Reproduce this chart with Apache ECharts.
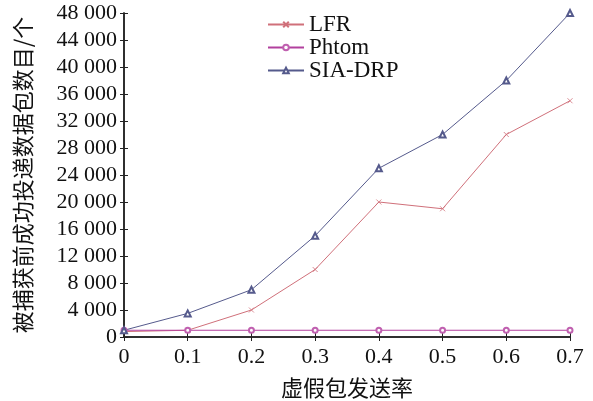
<!DOCTYPE html>
<html lang="zh">
<head>
    <meta charset="UTF-8">
    <title>chart</title>
    <script src="https://cdn.jsdelivr.net/npm/echarts@6/dist/echarts.min.js"></script>
</head>
<style>
    * { margin: 0; padding: 0; }
    html, body { width: 100%; height: 100%; overflow: hidden; background: #fff; }
    .container { width: 593px; height: 401px; }
</style>
<body>
    <div class="container"></div>
</body>
<script>
    let rates = [0, 0.1, 0.2, 0.3, 0.4, 0.5, 0.6, 0.7];
    let lfr = [800, 1000, 4000, 10000, 20000, 19000, 30000, 35000];
    let phtom = [1000, 1000, 1000, 1000, 1000, 1000, 1000, 1000];
    let siaDrp = [1000, 3500, 7000, 15000, 25000, 30000, 38000, 48000];

    let serif = '"Liberation Serif", "Noto Sans CJK SC", serif';
    let cjk = '"Noto Sans CJK SC", sans-serif';

    let container = document.querySelector('.container');
    let mycharts = echarts.init(container);

    function pairs(arr) {
        return arr.map((v, i) => [rates[i], v]);
    }
    function fmtY(v) {
        if (v < 1000) return String(v);
        let s = String(v);
        return s.slice(0, s.length - 3) + ' ' + s.slice(-3);
    }

    let axisLine = { show: true, lineStyle: { color: '#222', width: 1.5 } };
    let tick = { show: true, inside: true, length: 4, lineStyle: { color: '#222' } };

    let option = {
        backgroundColor: '#fff',
        animation: false,
        grid: { left: 124, top: 13, right: 23, bottom: 64, outerBoundsMode: 'none' },
        legend: {
            orient: 'vertical',
            left: 262,
            top: 8,
            itemWidth: 36,
            itemHeight: 7,
            itemGap: 0,
            textStyle: { fontFamily: serif, fontSize: 23, color: '#111', lineHeight: 21 },
            data: ['LFR', 'Phtom', 'SIA-DRP']
        },
        xAxis: [{
            type: 'value', min: 0, max: 0.7, interval: 0.1,
            name: '虚假包发送率', nameLocation: 'middle', nameGap: 40,
            nameTextStyle: { fontFamily: cjk, fontSize: 22, color: '#111' },
            axisLine, axisTick: tick,
            axisLabel: { fontFamily: serif, fontSize: 22, color: '#111', margin: 9,
                formatter: v => String(Math.round(v * 10) / 10) },
            splitLine: { show: false }
        }, {
            type: 'value', min: 0, max: 0.7, interval: 0.1, position: 'top',
            axisLine, axisTick: tick, axisLabel: { show: false }, splitLine: { show: false }
        }],
        yAxis: [{
            type: 'value', min: 0, max: 48000, interval: 4000,
            name: '被捕获前成功投递数据包数目/个', nameLocation: 'middle', nameGap: 90,
            nameTextStyle: { fontFamily: cjk, fontSize: 22, color: '#111' },
            axisLine, axisTick: tick,
            axisLabel: { fontFamily: serif, fontSize: 22, color: '#111', margin: 7, formatter: fmtY },
            splitLine: { show: false }
        }, {
            type: 'value', min: 0, max: 48000, interval: 4000, position: 'right',
            axisLine, axisTick: tick, axisLabel: { show: false }, splitLine: { show: false }
        }],
        series: [{
            name: 'LFR', type: 'line', data: pairs(lfr),
            symbol: 'path://M0,0L10,10M10,0L0,10', symbolSize: 5,
            lineStyle: { color: '#d0707a', width: 1 },
            itemStyle: { color: '#d0707a', borderColor: '#d0707a', borderWidth: 0.8 },
            color: '#d0707a'
        }, {
            name: 'Phtom', type: 'line', data: pairs(phtom),
            symbol: 'emptyCircle', symbolSize: 5,
            lineStyle: { color: '#b2409e', width: 1.2 },
            itemStyle: { color: '#c060b0', borderWidth: 0.8 },
            color: '#b2409e'
        }, {
            name: 'SIA-DRP', type: 'line', data: pairs(siaDrp),
            symbol: 'emptyTriangle', symbolSize: 6,
            lineStyle: { color: '#555a8c', width: 1 },
            itemStyle: { color: '#555a8c', borderWidth: 0.8 },
            color: '#555a8c'
        }]
    };
    mycharts.setOption(option);
</script>
</html>
